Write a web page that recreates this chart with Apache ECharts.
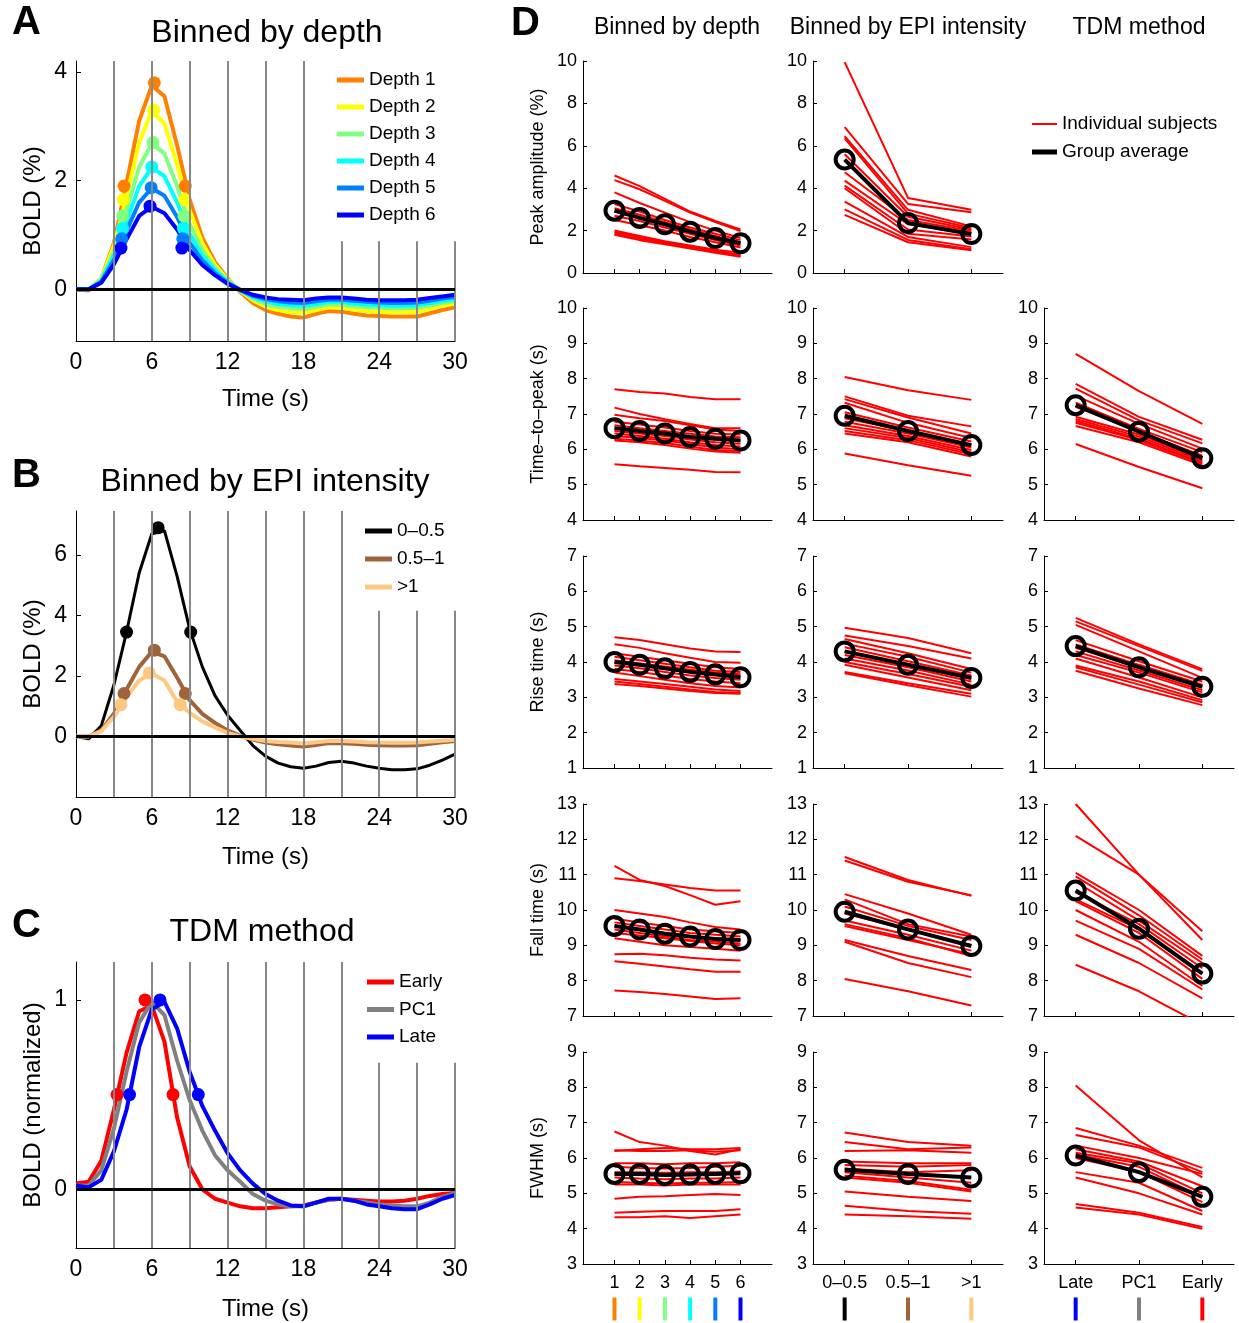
<!DOCTYPE html>
<html><head><meta charset="utf-8">
<script src="https://cdn.jsdelivr.net/npm/echarts@6/dist/echarts.min.js"></script>
<style>html,body{margin:0;padding:0;background:#fff}#c{width:1239px;height:1323px}</style>
</head><body><div id="c"></div>
<script>
// ---------------- DATA ----------------
const timeS = [0,1,2,3,4,5,6,7,8,9,10,11,12,13,14,15,16,17,18,19,20,21,22,23,24,25,26,27,28,29,30];
const gridTimes = [3,6,9,12,15,18,21,24,27,30];

// Panel A: binned by depth
const depthNames = ['Depth 1','Depth 2','Depth 3','Depth 4','Depth 5','Depth 6'];
const depth1 = [0,-0.02,0.2,0.85,1.95,3.1,3.75,3.55,2.65,1.65,0.95,0.5,0.2,-0.05,-0.25,-0.38,-0.45,-0.5,-0.52,-0.45,-0.4,-0.41,-0.45,-0.48,-0.49,-0.5,-0.5,-0.5,-0.44,-0.38,-0.33];
const depth2 = [0,0,0.2,0.8,1.7,2.7,3.28,3.05,2.3,1.45,0.85,0.45,0.18,-0.03,-0.2,-0.32,-0.38,-0.42,-0.43,-0.38,-0.33,-0.34,-0.37,-0.4,-0.41,-0.42,-0.42,-0.41,-0.36,-0.3,-0.26];
const depth3 = [0,0,0.18,0.7,1.45,2.25,2.68,2.5,1.9,1.2,0.72,0.4,0.16,-0.02,-0.17,-0.27,-0.32,-0.35,-0.36,-0.32,-0.28,-0.28,-0.31,-0.33,-0.34,-0.35,-0.35,-0.34,-0.3,-0.25,-0.22];
const depth4 = [0,0,0.16,0.62,1.25,1.9,2.24,2.08,1.6,1.02,0.62,0.35,0.14,-0.02,-0.14,-0.22,-0.27,-0.29,-0.3,-0.27,-0.23,-0.23,-0.26,-0.28,-0.29,-0.3,-0.3,-0.29,-0.25,-0.21,-0.18];
const depth5 = [0,0,0.14,0.54,1.08,1.6,1.86,1.72,1.33,0.86,0.53,0.3,0.12,-0.01,-0.12,-0.18,-0.22,-0.24,-0.25,-0.22,-0.19,-0.19,-0.21,-0.23,-0.24,-0.25,-0.25,-0.24,-0.21,-0.17,-0.14];
const depth6 = [0,0,0.12,0.46,0.92,1.35,1.52,1.4,1.1,0.72,0.45,0.26,0.1,-0.01,-0.1,-0.15,-0.18,-0.19,-0.2,-0.17,-0.15,-0.15,-0.17,-0.19,-0.2,-0.2,-0.2,-0.19,-0.16,-0.13,-0.1];
const depth1Marks = [[3.8,1.9],[6.2,3.8],[8.65,1.9]];
const depth2Marks = [[3.75,1.65],[6.15,3.3],[8.6,1.65]];
const depth3Marks = [[3.7,1.35],[6.1,2.7],[8.55,1.35]];
const depth4Marks = [[3.68,1.12],[6.0,2.25],[8.5,1.12]];
const depth5Marks = [[3.62,0.93],[5.95,1.87],[8.45,0.93]];
const depth6Marks = [[3.56,0.76],[5.86,1.53],[8.38,0.76]];

// Panel B: binned by EPI intensity
const epiNames = ['0–0.5','0.5–1','>1'];
const epiLow  = [0,-0.08,0.35,1.7,3.45,5.4,6.7,6.8,5.3,3.55,2.3,1.35,0.7,0.2,-0.3,-0.65,-0.88,-1.0,-1.05,-0.98,-0.86,-0.82,-0.88,-0.98,-1.05,-1.1,-1.1,-1.07,-0.95,-0.78,-0.58];
const epiMid  = [0,0,0.2,0.75,1.55,2.3,2.8,2.65,1.95,1.2,0.75,0.45,0.2,0.02,-0.1,-0.2,-0.26,-0.3,-0.33,-0.28,-0.22,-0.22,-0.24,-0.27,-0.29,-0.3,-0.3,-0.29,-0.24,-0.19,-0.15];
const epiHigh = [0,0,0.18,0.65,1.3,1.85,2.08,1.85,1.15,0.78,0.5,0.3,0.12,0,-0.08,-0.15,-0.18,-0.2,-0.23,-0.19,-0.15,-0.15,-0.17,-0.19,-0.2,-0.21,-0.21,-0.2,-0.17,-0.14,-0.11];
const epiLowMarks  = [[4.0,3.45],[6.5,6.9],[9.08,3.45]];
const epiMidMarks  = [[3.8,1.42],[6.2,2.85],[8.65,1.42]];
const epiHighMarks = [[3.55,1.05],[5.8,2.1],[8.25,1.05]];

// Panel C: TDM method
const tdmNames = ['Early','PC1','Late'];
const tdmEarly = [0.03,0.04,0.15,0.42,0.72,0.94,0.97,0.78,0.38,0.12,0.0,-0.05,-0.07,-0.09,-0.1,-0.1,-0.095,-0.09,-0.085,-0.07,-0.055,-0.05,-0.055,-0.06,-0.065,-0.065,-0.06,-0.05,-0.035,-0.025,-0.02];
const tdmPC1   = [0.02,0.02,0.1,0.32,0.62,0.88,0.99,0.92,0.68,0.47,0.31,0.18,0.1,0.04,-0.025,-0.06,-0.08,-0.09,-0.09,-0.07,-0.055,-0.05,-0.06,-0.07,-0.08,-0.085,-0.09,-0.09,-0.07,-0.04,-0.02];
const tdmLate  = [0.02,0.01,0.05,0.2,0.42,0.75,0.95,0.99,0.85,0.62,0.44,0.31,0.19,0.1,0.03,-0.025,-0.06,-0.085,-0.09,-0.07,-0.05,-0.05,-0.06,-0.08,-0.09,-0.1,-0.105,-0.105,-0.08,-0.05,-0.03];
const earlyMarks = [[3.25,0.5],[5.46,1],[7.68,0.5]];
const lateMarks  = [[4.24,0.5],[6.65,1],[9.68,0.5]];

// Panel D: category ticks
const depthTicks = [1,2,3,4,5,6];
const depthTickLabels = ['1','2','3','4','5','6'];
const epiTicks = [1,2,3];
const epiTickLabels = ['0–0.5','0.5–1','>1'];
const tdmTicks = [1,2,3];
const tdmTickLabels = ['Late','PC1','Early'];
const rowNames = ['Peak amplitude (%)','Time–to–peak (s)','Rise time (s)','Fall time (s)','FWHM (s)'];
const rowMin = [0,4,1,7,3];
const rowMax = [10,10,7,13,9];
const rowInterval = [2,1,1,1,1];

const peakDepthSubj = [
[4.6,4.1,3.5,2.9,2.45,2.05],[4.38,3.95,3.4,2.85,2.4,1.98],[3.8,3.3,2.85,2.4,2.0,1.65],[3.25,2.9,2.5,2.15,1.85,1.55],
[3.05,2.75,2.4,2.05,1.75,1.45],[2.9,2.6,2.3,2.0,1.7,1.4],[2.7,2.45,2.15,1.85,1.55,1.3],[2.5,2.25,2.0,1.7,1.45,1.2],
[2.0,1.75,1.5,1.3,1.1,0.95],[1.92,1.7,1.45,1.25,1.05,0.85],[1.85,1.62,1.4,1.2,1.0,0.8],[1.8,1.55,1.35,1.15,0.95,0.77]];
const peakDepthAvg = [2.94,2.6,2.3,1.95,1.65,1.4];
const peakEpiSubj = [
[9.95,3.54,2.98],[6.88,3.26,2.87],[6.45,2.98,2.2],[6.35,2.8,2.12],[5.6,2.65,2.05],[4.75,2.5,1.98],
[4.36,2.3,1.88],[4.12,2.05,1.72],[4.0,1.85,1.58],[3.37,1.7,1.22],[3.0,1.56,1.12],[2.74,1.45,1.07]];
const peakEpiAvg = [5.35,2.36,1.84];

const ttpDepthSubj = [
[7.7,7.62,7.58,7.48,7.42,7.42],[7.18,7.0,6.85,6.72,6.6,6.6],[6.98,6.88,6.8,6.68,6.56,6.52],[6.78,6.7,6.62,6.52,6.44,6.42],
[6.68,6.6,6.52,6.44,6.36,6.34],[6.6,6.52,6.45,6.36,6.28,6.25],[6.52,6.45,6.38,6.28,6.2,6.16],[6.45,6.38,6.3,6.2,6.12,6.08],
[6.38,6.32,6.25,6.15,6.05,6.0],[6.3,6.25,6.18,6.08,5.98,5.95],[6.25,6.2,6.12,6.02,5.94,5.9],[5.58,5.52,5.47,5.42,5.36,5.35]];
const ttpDepthAvg = [6.6,6.52,6.45,6.35,6.3,6.25];
const ttpEpiSubj = [
[8.05,7.67,7.4],[7.5,6.95,6.65],[7.42,6.9,6.45],[7.32,6.75,6.32],[7.05,6.62,6.22],[6.88,6.52,6.12],
[6.78,6.45,6.05],[6.68,6.38,5.98],[6.6,6.32,5.92],[6.52,6.26,5.86],[6.45,6.2,5.8],[5.88,5.55,5.25]];
const ttpEpiAvg = [6.95,6.52,6.12];
const ttpTdmSubj = [
[8.7,7.65,6.72],[7.85,6.92,6.27],[7.72,6.82,6.17],[7.52,6.72,6.02],[7.32,6.58,5.92],[7.2,6.5,5.82],
[6.92,6.42,5.72],[6.86,6.36,5.67],[6.8,6.3,5.62],[6.75,6.26,5.6],[6.66,6.2,5.55],[6.15,5.5,4.9]];
const ttpTdmAvg = [7.25,6.5,5.75];

const riseDepthSubj = [
[4.7,4.62,4.5,4.38,4.3,4.28],[4.5,4.4,4.25,4.12,4.0,3.98],[4.25,4.15,4.05,3.95,3.85,3.8],[4.15,4.05,3.95,3.85,3.75,3.72],
[4.05,3.96,3.87,3.78,3.7,3.65],[3.98,3.9,3.8,3.7,3.62,3.58],[3.9,3.82,3.72,3.62,3.55,3.5],[3.8,3.72,3.62,3.52,3.45,3.4],
[3.7,3.6,3.5,3.4,3.32,3.28],[3.52,3.45,3.38,3.3,3.22,3.18],[3.45,3.38,3.3,3.22,3.15,3.12],[3.38,3.32,3.25,3.18,3.12,3.1]];
const riseDepthAvg = [4.0,3.92,3.82,3.72,3.65,3.57];
const riseEpiSubj = [
[4.97,4.68,4.25],[4.75,4.45,4.1],[4.65,4.25,3.8],[4.52,4.15,3.7],[4.42,4.02,3.62],[4.3,3.92,3.52],
[4.2,3.85,3.45],[4.1,3.76,3.36],[4.0,3.66,3.3],[3.92,3.56,3.2],[3.72,3.4,3.1],[3.68,3.34,3.02]];
const riseEpiAvg = [4.3,3.92,3.55];
const riseTdmSubj = [
[5.25,4.5,3.8],[5.15,4.45,3.75],[5.05,4.3,3.55],[4.62,4.02,3.45],[4.5,3.92,3.36],[4.4,3.85,3.3],
[4.3,3.76,3.2],[4.2,3.7,3.14],[4.1,3.56,3.0],[3.9,3.45,2.92],[3.85,3.36,2.86],[3.75,3.25,2.78]];
const riseTdmAvg = [4.45,3.85,3.3];

const fallDepthSubj = [
[11.25,10.85,10.68,10.42,10.15,10.25],[10.9,10.82,10.72,10.62,10.55,10.55],[10.0,9.9,9.8,9.65,9.52,9.45],[9.75,9.65,9.55,9.45,9.4,9.35],
[9.65,9.55,9.45,9.35,9.3,9.25],[9.55,9.45,9.35,9.25,9.2,9.15],[9.45,9.35,9.25,9.15,9.1,9.05],[9.35,9.28,9.2,9.12,9.05,9.0],
[9.2,9.1,9.0,8.95,8.9,8.85],[8.75,8.76,8.72,8.65,8.6,8.57],[8.55,8.48,8.4,8.32,8.25,8.25],[7.72,7.68,7.62,7.55,7.48,7.5]];
const fallDepthAvg = [9.55,9.45,9.33,9.25,9.18,9.15];
const fallEpiSubj = [
[11.5,10.85,10.4],[11.4,10.8,10.42],[10.45,9.9,9.3],[10.3,9.6,9.25],[10.1,9.55,9.15],[9.9,9.45,9.0],
[9.7,9.3,8.85],[9.6,9.2,8.7],[9.55,9.15,8.75],[9.15,8.7,8.3],[9.1,8.5,8.1],[8.05,7.7,7.3]];
const fallEpiAvg = [9.95,9.45,8.98];
const fallTdmSubj = [
[13.0,11.0,9.4],[12.1,11.0,9.15],[11.05,10.0,8.7],[10.95,9.85,8.6],[10.8,9.7,8.5],[10.5,9.6,8.35],
[10.3,9.45,8.2],[10.25,9.35,8.05],[10.0,9.1,7.85],[9.7,8.9,7.75],[9.3,8.5,7.5],[8.45,7.7,6.75]];
const fallTdmAvg = [10.55,9.47,8.2];

const fwhmDepthSubj = [
[6.75,6.45,6.35,6.2,6.1,6.25],[6.2,6.25,6.28,6.25,6.25,6.28],[6.22,6.2,6.2,6.22,6.18,6.22],[5.85,5.85,5.82,5.85,5.85,5.88],
[5.75,5.72,5.7,5.72,5.75,5.78],[5.6,5.6,5.58,5.6,5.6,5.62],[5.45,5.42,5.4,5.42,5.42,5.45],[5.32,5.3,5.28,5.3,5.3,5.32],
[5.25,5.25,5.22,5.25,5.25,5.25],[4.85,4.9,4.92,4.95,4.98,4.95],[4.45,4.48,4.5,4.5,4.5,4.55],[4.32,4.32,4.35,4.3,4.35,4.4]];
const fwhmDepthAvg = [5.55,5.55,5.52,5.53,5.55,5.57];
const fwhmEpiSubj = [
[6.72,6.45,6.35],[6.45,6.25,6.3],[6.2,6.22,6.15],[5.9,5.85,5.85],[5.8,5.75,5.8],[5.7,5.6,5.65],
[5.6,5.45,5.3],[5.5,5.35,5.1],[5.45,5.3,5.05],[5.05,4.9,4.78],[4.65,4.5,4.42],[4.4,4.35,4.28]];
const fwhmEpiAvg = [5.67,5.55,5.45];
const fwhmTdmSubj = [
[8.05,6.5,5.45],[6.85,6.35,5.72],[6.65,6.3,5.6],[6.35,6.0,5.55],[6.25,5.9,5.2],[6.15,5.85,5.0],
[6.1,5.75,4.9],[6.0,5.6,4.75],[5.6,5.3,4.5],[5.45,5.0,4.4],[4.7,4.45,4.05],[4.6,4.4,4.0]];
const fwhmTdmAvg = [6.07,5.6,4.9];

// ---------------- CHART ----------------
const FF = '"Liberation Sans", Arial, Helvetica, sans-serif';
const grids = [], xAxes = [], yAxes = [], series = [], legends = [], graphics = [];

function addLeftPanel(p) {
  const gi = grids.length;
  grids.push({left:p.left, top:p.top, width:p.width, height:p.height});
  xAxes.push({gridIndex:gi, type:'value', min:0, max:30, interval:6,
    axisLine:{show:true, onZero:false, lineStyle:{color:'#000', width:1}},
    axisTick:{show:true, inside:true, length:5, lineStyle:{color:'#000'}},
    axisLabel:{show:true, margin:10, fontSize:23, color:'#000', fontFamily:FF},
    splitLine:{show:false},
    name:'Time (s)', nameLocation:'middle', nameGap:p.xNameGap,
    nameTextStyle:{fontSize:24, color:'#000', fontFamily:FF}});
  yAxes.push({gridIndex:gi, type:'value', min:p.ymin, max:p.ymax,
    axisLine:{show:true, onZero:false, lineStyle:{color:'#000', width:1}},
    axisTick:{show:true, inside:true, length:5, customValues:p.yTicks, lineStyle:{color:'#000'}},
    axisLabel:{show:true, margin:9, fontSize:23, color:'#000', fontFamily:FF, customValues:p.yTicks},
    splitLine:{show:false},
    name:p.yName, nameLocation:'middle', nameGap:p.yNameGap,
    nameTextStyle:{fontSize:24, color:'#000', fontFamily:FF}});
  p.curves.forEach(c => series.push({type:'line', name:c.name, xAxisIndex:gi, yAxisIndex:gi,
    data: timeS.map((t,i)=>[t, c.data[i]]), color:c.color, symbol:'none',
    lineStyle:{width:c.width, color:c.color}, z:2, silent:true}));
  p.marks.forEach(m => series.push({type:'scatter', name:m.name + ' marks', xAxisIndex:gi, yAxisIndex:gi,
    data:m.data, symbol:'circle', symbolSize:13, itemStyle:{color:m.color, opacity:1}, z:3, silent:true}));
  series.push({type:'line', name:'grid'+gi, xAxisIndex:gi, yAxisIndex:gi, data:[], z:5, silent:true,
    markLine:{silent:true, symbol:['none','none'], label:{show:false}, animation:false,
      lineStyle:{color:'#888', width:2, type:'solid'},
      emphasis:{disabled:true},
      data: gridTimes.map(t => [{coord:[t, p.ymin]}, {coord:[t, t >= p.cutFrom ? p.cutTop : p.ymax]}])}});
  series.push({type:'line', name:'zero'+gi, xAxisIndex:gi, yAxisIndex:gi, data:[], z:6, silent:true,
    markLine:{silent:true, symbol:['none','none'], label:{show:false}, animation:false,
      lineStyle:{color:'#000', width:3, type:'solid'},
      emphasis:{disabled:true},
      data:[[{coord:[0,0]},{coord:[30,0]}]]}});
  legends.push({left:p.legLeft, top:p.legTop, orient:'vertical', data:p.curves.map(c=>c.name),
    icon:'rect', itemWidth:27, itemHeight:5, itemGap:p.legGap, padding:0, selectedMode:false,
    textStyle:{fontSize:19, lineHeight:20, color:'#000', fontFamily:FF}});
}

addLeftPanel({left:76, top:61, width:379, height:280, ymin:-0.95, ymax:4.2, yTicks:[0,2,4],
  yName:'BOLD (%)', yNameGap:31, xNameGap:46, cutFrom:21, cutTop:0.885,
  legLeft:337, legTop:70, legGap:7,
  curves:[
    {name:depthNames[0], data:depth1, color:'#FF8000', width:4},
    {name:depthNames[1], data:depth2, color:'#FFFF00', width:4},
    {name:depthNames[2], data:depth3, color:'#80FF80', width:4},
    {name:depthNames[3], data:depth4, color:'#00FFFF', width:4},
    {name:depthNames[4], data:depth5, color:'#0080FF', width:4},
    {name:depthNames[5], data:depth6, color:'#0000FF', width:4}],
  marks:[
    {name:depthNames[0], data:depth1Marks, color:'#FF8000'},
    {name:depthNames[1], data:depth2Marks, color:'#FFFF00'},
    {name:depthNames[2], data:depth3Marks, color:'#80FF80'},
    {name:depthNames[3], data:depth4Marks, color:'#00FFFF'},
    {name:depthNames[4], data:depth5Marks, color:'#0080FF'},
    {name:depthNames[5], data:depth6Marks, color:'#0000FF'}]});

addLeftPanel({left:76, top:511, width:379, height:286, ymin:-2, ymax:7.45, yTicks:[0,2,4,6],
  yName:'BOLD (%)', yNameGap:31, xNameGap:48, cutFrom:24, cutTop:4.15,
  legLeft:365, legTop:521, legGap:8,
  curves:[
    {name:epiNames[0], data:epiLow, color:'#000000', width:3},
    {name:epiNames[1], data:epiMid, color:'#A0643C', width:4},
    {name:epiNames[2], data:epiHigh, color:'#FFC880', width:4}],
  marks:[
    {name:epiNames[0], data:epiLowMarks, color:'#000000'},
    {name:epiNames[1], data:epiMidMarks, color:'#A0643C'},
    {name:epiNames[2], data:epiHighMarks, color:'#FFC880'}]});

addLeftPanel({left:76, top:962, width:379, height:286, ymin:-0.31, ymax:1.2, yTicks:[0,1],
  yName:'BOLD (normalized)', yNameGap:31, xNameGap:49, cutFrom:24, cutTop:0.668,
  legLeft:367, legTop:972, legGap:7.5,
  curves:[
    {name:tdmNames[0], data:tdmEarly, color:'#FF0000', width:4},
    {name:tdmNames[1], data:tdmPC1, color:'#808080', width:4},
    {name:tdmNames[2], data:tdmLate, color:'#0000FF', width:4}],
  marks:[
    {name:tdmNames[0], data:earlyMarks, color:'#FF0000'},
    {name:tdmNames[2], data:lateMarks, color:'#0000FF'}]});

// Panel D
const dCols = [
  {left:583, width:189, min:-0.25, max:7.25, xs:depthTicks, labels:depthTickLabels,
   bars:['#FF8000','#FFFF00','#80FF80','#00FFFF','#0080FF','#0000FF']},
  {left:813, width:190, min:0.5, max:3.5, xs:epiTicks, labels:epiTickLabels,
   bars:['#000000','#A0643C','#FFC880']},
  {left:1044, width:190, min:0.5, max:3.5, xs:tdmTicks, labels:tdmTickLabels,
   bars:['#0000FF','#808080','#FF0000']}];
const dRowTops = [61, 308, 556, 804, 1052];

function addDPanel(row, col, subj, avg) {
  const gi = grids.length;
  const c = dCols[col];
  grids.push({left:c.left, top:dRowTops[row], width:c.width, height:212});
  const rich = {t:{fontSize:18, lineHeight:20, color:'#000', fontFamily:FF}};
  c.bars.forEach((b,i) => { rich['b'+i] = {backgroundColor:b, width:4, height:23, lineHeight:32}; });
  xAxes.push({gridIndex:gi, type:'value', min:c.min, max:c.max,
    axisLine:{show:true, onZero:false, lineStyle:{color:'#000', width:1}},
    axisTick:{show:true, inside:true, length:4, customValues:c.xs, lineStyle:{color:'#000'}},
    axisLabel:{show:row===4, customValues:c.xs, margin:9, color:'#000', fontFamily:FF, fontSize:18,
      formatter:(v) => { const i = c.xs.indexOf(v); return '{t|' + c.labels[i] + '}\n{b' + i + '|}'; },
      rich:rich},
    splitLine:{show:false}});
  yAxes.push({gridIndex:gi, type:'value', min:rowMin[row], max:rowMax[row], interval:rowInterval[row],
    axisLine:{show:true, onZero:false, lineStyle:{color:'#000', width:1}},
    axisTick:{show:true, inside:true, length:4, lineStyle:{color:'#000'}},
    axisLabel:{show:true, margin:6, fontSize:18, color:'#000', fontFamily:FF},
    splitLine:{show:false},
    name: col===0 ? rowNames[row] : '', nameLocation:'middle', nameGap:36,
    nameTextStyle:{fontSize:18, color:'#000', fontFamily:FF}});
  subj.forEach(s => series.push({type:'line', name:'Individual subjects', xAxisIndex:gi, yAxisIndex:gi,
    data:s.map((v,i)=>[c.xs[i], v]), color:'#FF0000', symbol:'none',
    lineStyle:{width:2, color:'#FF0000'}, z:2, silent:true}));
  series.push({type:'line', name:'Group average', xAxisIndex:gi, yAxisIndex:gi,
    data:avg.map((v,i)=>[c.xs[i], v]), color:'#000000', symbol:'circle', symbolSize:18, showSymbol:true,
    itemStyle:{color:'rgba(0,0,0,0)', borderColor:'#000', borderWidth:4},
    lineStyle:{width:4, color:'#000'}, z:3, silent:true});
}

addDPanel(0,0,peakDepthSubj,peakDepthAvg);
addDPanel(0,1,peakEpiSubj,peakEpiAvg);
addDPanel(1,0,ttpDepthSubj,ttpDepthAvg);
addDPanel(1,1,ttpEpiSubj,ttpEpiAvg);
addDPanel(1,2,ttpTdmSubj,ttpTdmAvg);
addDPanel(2,0,riseDepthSubj,riseDepthAvg);
addDPanel(2,1,riseEpiSubj,riseEpiAvg);
addDPanel(2,2,riseTdmSubj,riseTdmAvg);
addDPanel(3,0,fallDepthSubj,fallDepthAvg);
addDPanel(3,1,fallEpiSubj,fallEpiAvg);
addDPanel(3,2,fallTdmSubj,fallTdmAvg);
addDPanel(4,0,fwhmDepthSubj,fwhmDepthAvg);
addDPanel(4,1,fwhmEpiSubj,fwhmEpiAvg);
addDPanel(4,2,fwhmTdmSubj,fwhmTdmAvg);

legends.push({left:1032, top:114, orient:'vertical', data:['Individual subjects'], icon:'rect',
  itemWidth:25, itemHeight:2, padding:0, selectedMode:false,
  itemStyle:{color:'#FF0000'},
  textStyle:{fontSize:19, lineHeight:20, color:'#000', fontFamily:FF}});
legends.push({left:1032, top:142, orient:'vertical', data:['Group average'], icon:'rect',
  itemWidth:25, itemHeight:5, padding:0, selectedMode:false,
  itemStyle:{color:'#000000', borderWidth:0},
  textStyle:{fontSize:19, lineHeight:20, color:'#000', fontFamily:FF}});

function addText(txt, x, y, size, bold, align) {
  graphics.push({type:'text', x:x, y:y, silent:true, style:{text:txt, fontSize:size,
    fontWeight: bold ? 'bold' : 'normal', fontFamily:FF, fill:'#000',
    align:align, verticalAlign:'middle'}});
}
addText('A', 12, 23, 40, true, 'left');
addText('Binned by depth', 267, 33, 32, false, 'center');
addText('B', 12, 476, 40, true, 'left');
addText('Binned by EPI intensity', 265, 482, 32, false, 'center');
addText('C', 12, 926, 40, true, 'left');
addText('TDM method', 262, 932, 32, false, 'center');
addText('D', 511, 24, 40, true, 'left');
addText('Binned by depth', 677, 28, 23, false, 'center');
addText('Binned by EPI intensity', 908, 28, 23, false, 'center');
addText('TDM method', 1139, 28, 23, false, 'center');

const chart = echarts.init(document.getElementById('c'), null, {width:1239, height:1323});
chart.setOption({
  animation:false,
  backgroundColor:'#fff',
  textStyle:{fontFamily:FF},
  grid:grids, xAxis:xAxes, yAxis:yAxes, series:series, legend:legends, graphic:graphics
});
</script>
</body></html>
